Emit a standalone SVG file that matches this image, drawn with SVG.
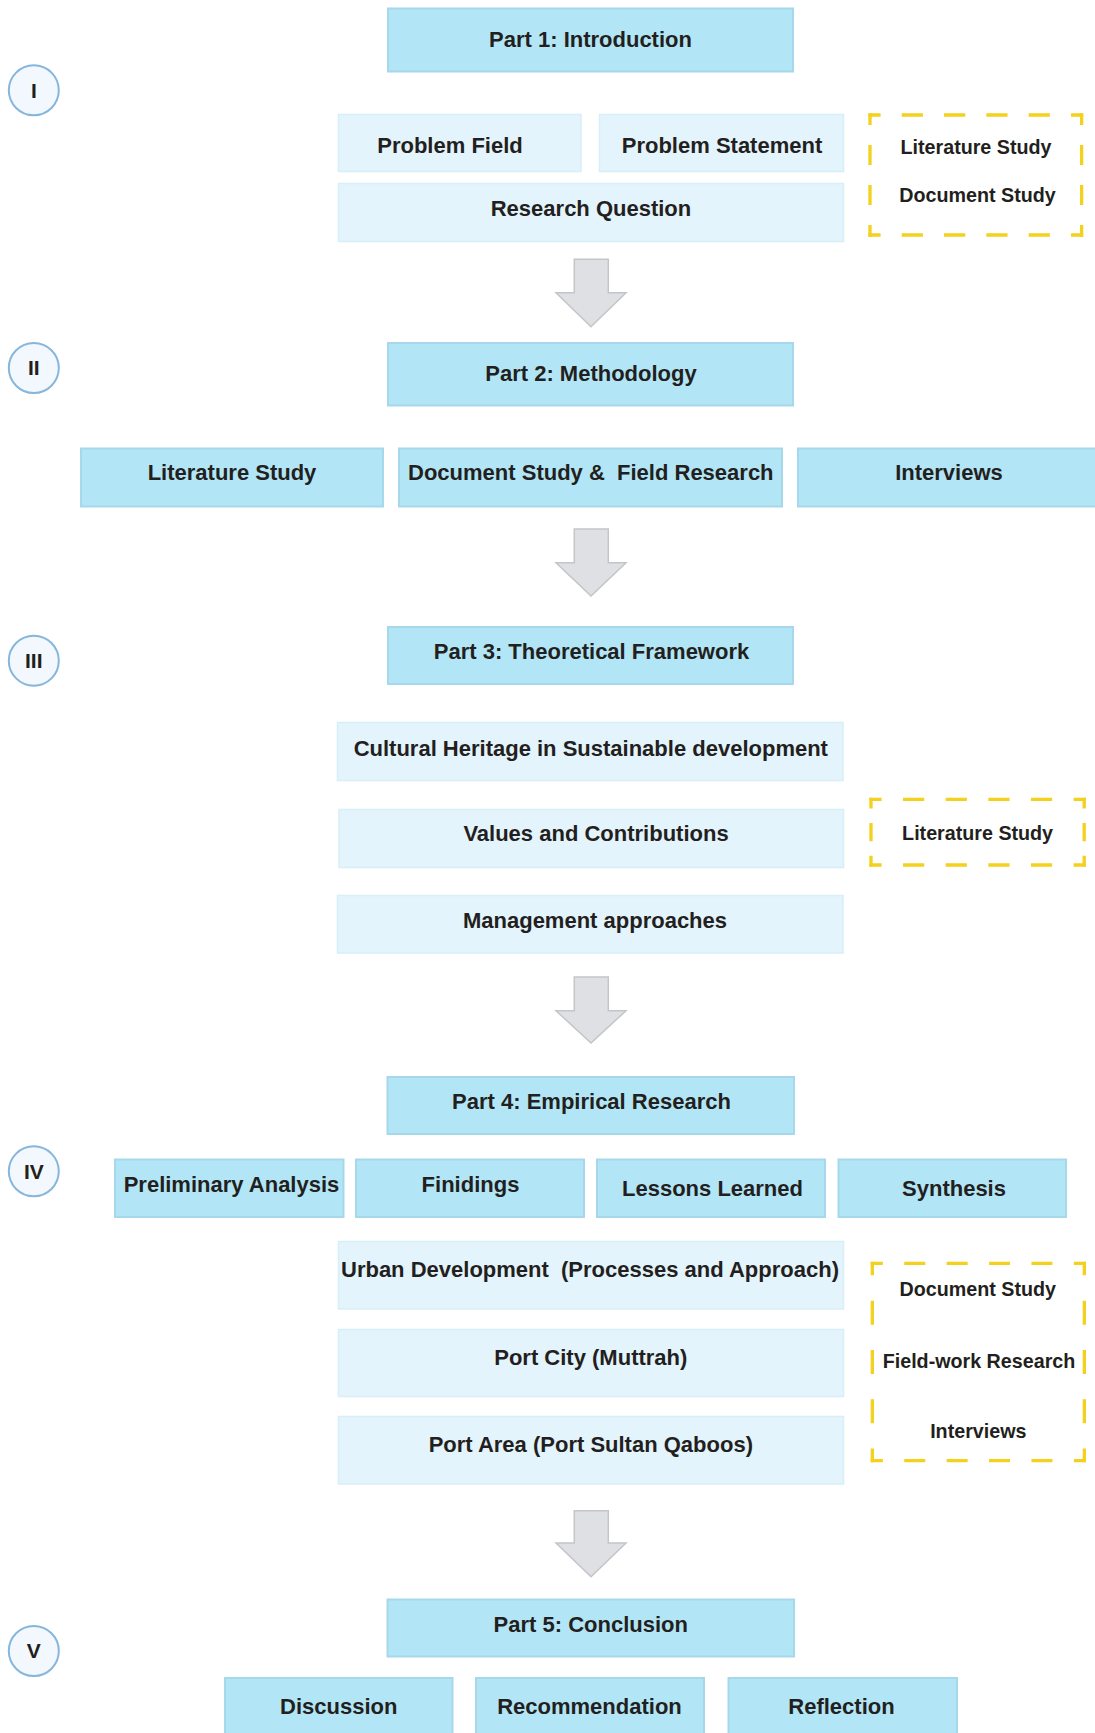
<svg xmlns="http://www.w3.org/2000/svg" width="1095" height="1733" viewBox="0 0 1095 1733">
<defs>
<style>
.dk{fill:#b2e6f6;stroke:#a6d7ea;stroke-width:2}
.lt{fill:#e3f4fc;stroke:#d8eef8;stroke-width:1.5}
.cir{fill:#f2f8fd;stroke:#86b6dc;stroke-width:2}
.arr{fill:#dfe0e4;stroke:#c3c5c9;stroke-width:1.5;stroke-linejoin:miter}
.ds{fill:none;stroke:#f3d11c;stroke-width:3.3;stroke-linecap:square}
text{font-family:"Liberation Sans",Arial,Helvetica,sans-serif;font-weight:bold;fill:#231f20;text-anchor:middle}
.t{font-size:22px}
.s{font-size:19.7px}
.n{font-size:21px}
.pre{white-space:pre}
</style>
</defs>
<rect width="1095" height="1733" fill="#ffffff"/>

<g id="connectors">
<path class="arr" d="M574.3,259.3 H608.3 V292.7 H626 L591,326.7 L556,292.7 H574.3 Z"/>
<path class="arr" d="M574.3,529 H608.3 V562.7 H626 L591,596 L556,562.7 H574.3 Z"/>
<path class="arr" d="M574.3,977 H608.3 V1010.7 H626 L591,1043 L556,1010.7 H574.3 Z"/>
<path class="arr" d="M574.3,1510.7 H608.3 V1543 H626 L591,1576.7 L556,1543 H574.3 Z"/>
</g>

<g id="circle-I"><circle class="cir" cx="33.8" cy="90.3" r="25"/><text class="n" x="33.8" y="97.5">I</text></g>
<g id="circle-II"><circle class="cir" cx="33.8" cy="368" r="25"/><text class="n" x="33.8" y="375.2">II</text></g>
<g id="circle-III"><circle class="cir" cx="33.8" cy="660.7" r="25"/><text class="n" x="33.8" y="667.9">III</text></g>
<g id="circle-IV"><circle class="cir" cx="33.8" cy="1171.3" r="25"/><text class="n" x="33.8" y="1178.5">IV</text></g>
<g id="circle-V"><circle class="cir" cx="33.8" cy="1651" r="25"/><text class="n" x="33.8" y="1658.2">V</text></g>

<g id="part1"><rect class="dk" x="388" y="8.5" width="405" height="63"/><text class="t" x="590.5" y="47">Part 1: Introduction</text></g>
<g id="problem-field"><rect class="lt" x="338.5" y="114.5" width="242.5" height="57"/><text class="t" x="450" y="152.5">Problem Field</text></g>
<g id="problem-statement"><rect class="lt" x="599.5" y="114.5" width="244" height="57"/><text class="t" x="722" y="152.5">Problem Statement</text></g>
<g id="research-question"><rect class="lt" x="338.5" y="183.5" width="505" height="58"/><text class="t" x="591" y="216">Research Question</text></g>
<g id="methods-1">
<line class="ds" x1="870" y1="115" x2="1081.6" y2="115" stroke-dasharray="17.9 24.42" stroke-dashoffset="8.95"/>
<line class="ds" x1="870" y1="235" x2="1081.6" y2="235" stroke-dasharray="17.9 24.42" stroke-dashoffset="8.95"/>
<line class="ds" x1="870" y1="115" x2="870" y2="235" stroke-dasharray="16.7 23.3" stroke-dashoffset="8.35"/>
<line class="ds" x1="1081.6" y1="115" x2="1081.6" y2="235" stroke-dasharray="16.7 23.3" stroke-dashoffset="8.35"/>
<text class="s" x="976" y="154">Literature Study</text>
<text class="s" x="977.5" y="202">Document Study</text>
</g>

<g id="part2"><rect class="dk" x="388" y="343" width="405" height="62.5"/><text class="t" x="591" y="380.5">Part 2: Methodology</text></g>
<g id="literature-study"><rect class="dk" x="81" y="448.5" width="302" height="58"/><text class="t" x="232" y="480">Literature Study</text></g>
<g id="document-field"><rect class="dk" x="399" y="448.5" width="383" height="58"/><text class="t pre" x="590.8" y="480" xml:space="preserve">Document Study &amp;  Field Research</text></g>
<g id="interviews"><rect class="dk" x="798" y="448.5" width="310" height="58"/><text class="t" x="949" y="480">Interviews</text></g>

<g id="part3"><rect class="dk" x="388" y="627" width="405" height="57"/><text class="t" x="591.5" y="659">Part 3: Theoretical Framework</text></g>
<g id="cultural-heritage"><rect class="lt" x="337.5" y="722.5" width="505.5" height="58"/><text class="t" x="590.8" y="755.5">Cultural Heritage in Sustainable development</text></g>
<g id="values"><rect class="lt" x="339" y="809.5" width="504.5" height="58"/><text class="t" x="596" y="841">Values and Contributions</text></g>
<g id="management"><rect class="lt" x="337.5" y="895.5" width="505.5" height="57.5"/><text class="t" x="595" y="928">Management approaches</text></g>
<g id="methods-3">
<line class="ds" x1="871" y1="799.3" x2="1084.2" y2="799.3" stroke-dasharray="17.9 24.74" stroke-dashoffset="8.95"/>
<line class="ds" x1="871" y1="865" x2="1084.2" y2="865" stroke-dasharray="17.9 24.74" stroke-dashoffset="8.95"/>
<line class="ds" x1="871" y1="799.3" x2="871" y2="865" stroke-dasharray="15 17.85" stroke-dashoffset="7.5"/>
<line class="ds" x1="1084.2" y1="799.3" x2="1084.2" y2="865" stroke-dasharray="15 17.85" stroke-dashoffset="7.5"/>
<text class="s" x="977.6" y="840">Literature Study</text>
</g>

<g id="part4"><rect class="dk" x="387.5" y="1077" width="406.5" height="57"/><text class="t" x="591.5" y="1109">Part 4: Empirical Research</text></g>
<g id="preliminary"><rect class="dk" x="115" y="1159.5" width="228.5" height="57.5"/><text class="t" x="231.5" y="1191.5">Preliminary Analysis</text></g>
<g id="findings"><rect class="dk" x="356" y="1159.5" width="228" height="57.5"/><text class="t" x="470.5" y="1191.5">Finidings</text></g>
<g id="lessons"><rect class="dk" x="597" y="1159.5" width="228" height="57.5"/><text class="t" x="712.5" y="1196">Lessons Learned</text></g>
<g id="synthesis"><rect class="dk" x="838.5" y="1159.5" width="227.5" height="57.5"/><text class="t" x="954" y="1196">Synthesis</text></g>
<g id="urban"><rect class="lt" x="338.5" y="1241.5" width="505" height="67.5"/><text class="t pre" x="590" y="1277" xml:space="preserve">Urban Development  (Processes and Approach)</text></g>
<g id="port-city"><rect class="lt" x="338.5" y="1329.5" width="505" height="67"/><text class="t" x="590.8" y="1365">Port City (Muttrah)</text></g>
<g id="port-area"><rect class="lt" x="338.5" y="1416.5" width="505" height="67.5"/><text class="t" x="590.8" y="1451.5">Port Area (Port Sultan Qaboos)</text></g>
<g id="methods-4">
<line class="ds" x1="872.35" y1="1263.35" x2="1084.35" y2="1263.35" stroke-dasharray="17.7 24.7" stroke-dashoffset="8.85"/>
<line class="ds" x1="872.35" y1="1460.65" x2="1084.35" y2="1460.65" stroke-dasharray="17.7 24.7" stroke-dashoffset="8.85"/>
<line class="ds" x1="872.35" y1="1263.35" x2="872.35" y2="1460.65" stroke-dasharray="20.7 28.6" stroke-dashoffset="10.35"/>
<line class="ds" x1="1084.35" y1="1263.35" x2="1084.35" y2="1460.65" stroke-dasharray="20.7 28.6" stroke-dashoffset="10.35"/>
<text class="s" x="977.8" y="1296">Document Study</text>
<text class="s" x="979" y="1367.5">Field-work Research</text>
<text class="s" x="978.3" y="1438">Interviews</text>
</g>

<g id="part5"><rect class="dk" x="387.5" y="1599.5" width="406.5" height="57"/><text class="t" x="590.8" y="1631.5">Part 5: Conclusion</text></g>
<g id="discussion"><rect class="dk" x="225" y="1678" width="227.5" height="70"/><text class="t" x="338.7" y="1713.5">Discussion</text></g>
<g id="recommendation"><rect class="dk" x="476" y="1678" width="228" height="70"/><text class="t" x="589.5" y="1713.5">Recommendation</text></g>
<g id="reflection"><rect class="dk" x="728.5" y="1678" width="228.5" height="70"/><text class="t" x="841.5" y="1713.5">Reflection</text></g>
</svg>
